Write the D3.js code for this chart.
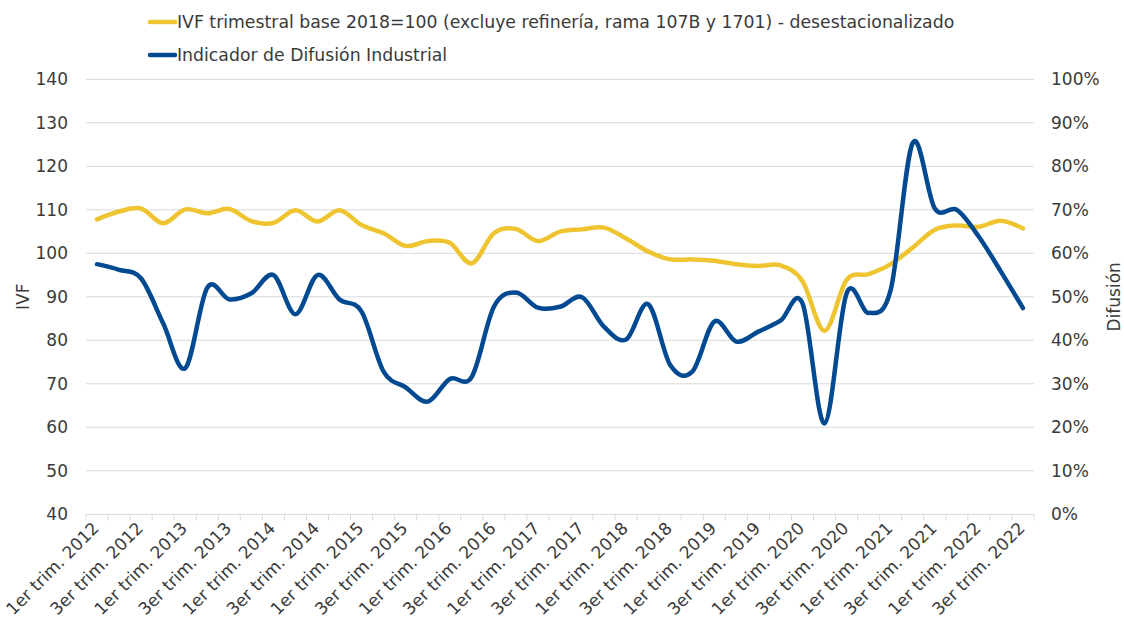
<!DOCTYPE html>
<html><head><meta charset="utf-8">
<script src="https://cdn.jsdelivr.net/npm/d3@7/dist/d3.min.js"></script>
<style>body{margin:0;background:#fff}svg{display:block}text{font-family:"DejaVu Sans",sans-serif;fill:#3a3a3a}</style>
</head><body><svg id="c" width="1124" height="625"></svg>
<script>
const years = d3.range(2012, 2023);
const quarterNames = ["1er trim.", "2do trim.", "3er trim.", "4to trim."];
const categories = [];
years.forEach(y => quarterNames.forEach(q => categories.push(q + " " + y)));
categories.length = 43; // 1er trim. 2012 ... 3er trim. 2022

const ivf = [107.8,109.6,110.3,106.9,110.1,109.2,110.2,107.4,107.0,109.9,107.3,109.9,106.5,104.6,
  101.7,102.8,102.4,97.7,104.6,105.6,102.8,105.0,105.5,105.9,103.4,100.4,98.6,98.6,98.3,97.5,97.1,
  97.2,93.6,82.2,93.9,95.2,97.5,101.3,105.4,106.4,106.1,107.5,105.7];
const difusion = [57.5,56.2,54.2,43.9,33.6,52.1,49.4,50.8,55.0,46.0,55.0,49.4,46.6,32.8,
  29.2,25.9,31.1,31.6,47.7,51.0,47.5,47.7,49.9,43.1,40.2,48.3,34.3,32.8,44.3,39.7,42.0,
  44.5,48.5,20.9,50.8,46.3,51.6,85.4,70.3,70.0,63.8,55.8,47.4];
const leftTicks = [40,50,60,70,80,90,100,110,120,130,140];
const rightTicks = [0,10,20,30,40,50,60,70,80,90,100];
const legendLabels = ["IVF trimestral base 2018=100 (excluye refinería, rama 107B y 1701) - desestacionalizado",
  "Indicador de Difusión Industrial"];
const colors = ["#EEC530", "#014A91"];

const svg = d3.select("#c");
const L = 86, R = 1034, T = 79.3, B = 514.3;
const x = d3.scaleBand().domain(categories).range([L, R]);
const xc = c => x(c) + x.bandwidth() / 2;
const yL = d3.scaleLinear().domain([40, 140]).range([B, T]);
const yR = d3.scaleLinear().domain([0, 100]).range([B, T]);

// gridlines
svg.append("g").selectAll("line").data(leftTicks).join("line")
  .attr("x1", L).attr("x2", R).attr("y1", d => yL(d)).attr("y2", d => yL(d))
  .attr("stroke", "#d9d9d9").attr("stroke-width", 1);

// x tick marks at category boundaries
const bounds = categories.map(c => x(c)).concat([x(categories[categories.length - 1]) + x.bandwidth()]);
svg.append("g").selectAll("line").data(bounds).join("line")
  .attr("x1", d => d).attr("x2", d => d).attr("y1", B).attr("y2", B + 6)
  .attr("stroke", "#d9d9d9").attr("stroke-width", 1);

// left labels
svg.append("g").selectAll("text").data(leftTicks).join("text")
  .attr("x", 68).attr("y", d => yL(d)).attr("dy", "0.36em").attr("text-anchor", "end")
  .attr("font-size", 17).text(d => d);
// right labels
svg.append("g").selectAll("text").data(rightTicks).join("text")
  .attr("x", 1051).attr("y", d => yR(d)).attr("dy", "0.36em").attr("text-anchor", "start")
  .attr("font-size", 17).text(d => d + "%");

// x labels
svg.append("g").selectAll("text").data(categories.filter((c, i) => i % 2 === 0)).join("text")
  .attr("transform", d => `translate(${xc(d) + 3},${B + 15}) rotate(-45)`)
  .attr("text-anchor", "end").attr("font-size", 17).text(d => d);

// axis titles
svg.append("text").attr("transform", `translate(29,${(T + B) / 2}) rotate(-90)`)
  .attr("text-anchor", "middle").attr("font-size", 17).text("IVF");
svg.append("text").attr("transform", `translate(1120,${(T + B) / 2}) rotate(-90)`)
  .attr("text-anchor", "middle").attr("font-size", 17).text("Difusión");

// lines
const curve = d3.curveCardinal.tension(0);
const lineL = d3.line().x((d, i) => xc(categories[i])).y(d => yL(d)).curve(curve);
const lineR = d3.line().x((d, i) => xc(categories[i])).y(d => yR(d)).curve(curve);
svg.append("path").attr("d", lineL(ivf)).attr("fill", "none").attr("stroke", colors[0])
  .attr("stroke-width", 4.5).attr("stroke-linecap", "round").attr("stroke-linejoin", "round");
svg.append("path").attr("d", lineR(difusion)).attr("fill", "none").attr("stroke", colors[1])
  .attr("stroke-width", 4.5).attr("stroke-linecap", "round").attr("stroke-linejoin", "round");

// legend
const lg = svg.append("g").selectAll("g").data(legendLabels).join("g")
  .attr("transform", (d, i) => `translate(150,${22 + i * 33})`);
lg.append("line").attr("x1", 0).attr("x2", 25).attr("stroke", (d, i) => colors[i])
  .attr("stroke-width", 4.5).attr("stroke-linecap", "round");
lg.append("text").attr("x", 27).attr("dy", "0.36em").attr("font-size", 17.3).text(d => d);
</script></body></html>
